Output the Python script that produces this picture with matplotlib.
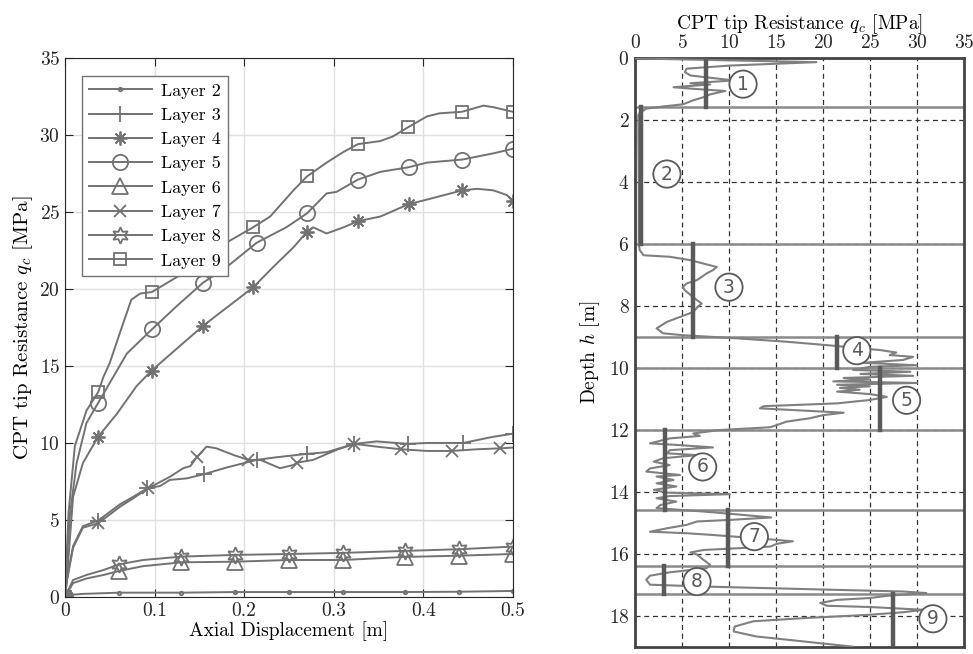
import matplotlib
matplotlib.use("Agg")
import matplotlib.pyplot as plt
from matplotlib.ticker import FuncFormatter

plt.rcParams['font.family'] = 'serif'
plt.rcParams['font.serif'] = ['cmr10', 'DejaVu Serif']
plt.rcParams['mathtext.fontset'] = 'cm'
plt.rcParams['axes.formatter.use_mathtext'] = True

grey = '#727272'
dark = '#262626'

# ---- left panel: load-displacement curves per layer ----
x2 = [0, 0.004, 0.02, 0.0606, 0.13, 0.19, 0.25, 0.31, 0.38, 0.44, 0.5]
y2 = [0, 0.13, 0.2, 0.28, 0.28, 0.32, 0.32, 0.32, 0.32, 0.34, 0.39]
m2 = [0, 3, 4, 5, 6, 7, 8, 9, 10]

x3 = [0, 0.002, 0.009, 0.02, 0.037, 0.061, 0.076, 0.092, 0.106, 0.117, 0.136, 0.155, 0.18, 0.214, 0.236,
      0.27, 0.292, 0.323, 0.348, 0.383, 0.404, 0.4446, 0.478, 0.5]
y3 = [0, 1.1, 3.3, 4.6, 4.96, 6.0, 6.5, 7.06, 7.2, 7.6, 7.7, 7.97, 8.4, 8.9, 9.07,
      9.29, 9.4, 9.94, 10.1, 9.94, 10.0, 10.0, 10.4, 10.6]
m3 = [0, 4, 7, 11, 13, 15, 17, 19, 21, 23]

x4 = [0, 0.002, 0.009, 0.02, 0.037, 0.058, 0.08, 0.0967, 0.154, 0.21, 0.232, 0.255, 0.27, 0.277, 0.292,
      0.311, 0.327, 0.352, 0.3835, 0.404, 0.4435, 0.46, 0.478, 0.493, 0.5]
y4 = [0, 1.1, 6.5, 8.7, 10.4, 11.9, 13.7, 14.7, 17.6, 20.1, 21.4, 22.7, 23.7, 24.0, 23.6,
      24.0, 24.4, 24.7, 25.5, 25.8, 26.4, 26.5, 26.4, 26.1, 25.7]
m4 = [0, 4, 7, 8, 9, 12, 16, 18, 20, 24]

x5 = [0, 0.0005, 0.0056, 0.013, 0.024, 0.037, 0.054, 0.069, 0.0975, 0.125, 0.154, 0.18, 0.214, 0.247,
      0.27, 0.292, 0.303, 0.327, 0.352, 0.3835, 0.404, 0.4435, 0.478, 0.5]
y5 = [0, 1.1, 5.4, 8.7, 11.3, 12.6, 14.3, 15.8, 17.4, 18.9, 20.4, 21.4, 23.0, 24.0,
      24.9, 26.2, 26.3, 27.1, 27.6, 27.9, 28.2, 28.4, 28.8, 29.1]
m5 = [0, 5, 8, 10, 12, 14, 17, 19, 21, 23]

x6 = [0, 0.009, 0.024, 0.043, 0.0606, 0.087, 0.13, 0.19, 0.25, 0.31, 0.379, 0.44, 0.5]
y6 = [0, 0.9, 1.2, 1.43, 1.69, 2.0, 2.25, 2.29, 2.4, 2.4, 2.6, 2.68, 2.79]
m6 = [0, 4, 6, 7, 8, 9, 10, 11, 12]

x7 = [0, 0.002, 0.009, 0.02, 0.037, 0.061, 0.076, 0.093, 0.117, 0.132, 0.14, 0.147, 0.158, 0.169, 0.188,
      0.2046, 0.218, 0.24, 0.255, 0.259, 0.277, 0.303, 0.323, 0.348, 0.375, 0.404, 0.4316, 0.46, 0.4855, 0.5]
y7 = [0, 1.0, 3.2, 4.5, 4.78, 5.84, 6.4, 7.06, 7.8, 8.36, 8.5, 9.07, 9.76, 9.65, 9.22,
      8.9, 8.9, 8.36, 8.57, 8.72, 8.9, 9.55, 9.94, 9.76, 9.59, 9.48, 9.48, 9.59, 9.65, 9.7]
m7 = [0, 4, 7, 11, 15, 19, 22, 24, 26, 28]

x8 = [0, 0.009, 0.024, 0.043, 0.0606, 0.087, 0.13, 0.19, 0.25, 0.31, 0.379, 0.44, 0.5]
y8 = [0, 1.1, 1.43, 1.75, 2.12, 2.4, 2.62, 2.73, 2.79, 2.86, 2.99, 3.1, 3.27]
m8 = [0, 4, 6, 7, 8, 9, 10, 11, 12]

x9 = [0, 0.004, 0.011, 0.024, 0.037, 0.043, 0.05, 0.061, 0.074, 0.084, 0.097, 0.143, 0.18, 0.21, 0.229,
      0.255, 0.27, 0.292, 0.311, 0.327, 0.352, 0.366, 0.383, 0.404, 0.418, 0.443, 0.467, 0.478, 0.5]
y9 = [0, 5.5, 9.8, 12.1, 13.3, 14.3, 15.2, 17.1, 19.3, 19.7, 19.8, 21.4, 23.0, 24.0, 24.7,
      26.4, 27.3, 28.2, 28.9, 29.4, 29.6, 29.9, 30.5, 31.2, 31.4, 31.5, 31.9, 31.8, 31.5]
m9 = [0, 4, 10, 13, 16, 19, 22, 25, 28]

labels = ['Layer 2', 'Layer 3', 'Layer 4', 'Layer 5', 'Layer 6', 'Layer 7', 'Layer 8', 'Layer 9']

# ---- right panel: CPT profile ----
cpt_q = [0, 19.3, 10.1, 5.5, 5.3, 5.9, 10.5, 5.9, 8.0, 4.1, 6.2, 9.6, 8.0, 7.3, 6.2, 5.1, 3.0, 1.2, 0.5, 0.35,
         0.4, 0.4, 0.5, 0.9, 3.7, 5.9, 7.3, 8.7, 8.3, 7.6, 7.1, 6.6, 5.5, 5.1, 5.3, 5.7, 6.6, 7.1, 6.7, 6.2,
         4.8, 3.4, 2.3, 3.0, 5.1, 10.8, 16.1, 20.4, 23.2, 26.1, 27.8, 27.1, 29.6, 28.5, 24.3, 30.0, 25.0,
         23.2, 29.3, 24.0, 29.6, 22.2, 25.0, 21.1, 30.0, 21.5, 25.0, 21.8, 23.9, 21.5, 25.0, 26.8, 25.0, 21.5,
         13.7, 13.3, 17.2, 22.2, 20.0, 18.6, 16.1, 15.1, 14.4, 9.0, 6.2, 6.9, 3.7, 1.6, 4.4, 8.3, 3.7, 3.4,
         6.6, 3.0, 2.0, 3.7, 1.6, 1.2, 4.8, 2.3, 4.1, 2.3, 4.4, 2.0, 3.4, 10.1, 3.7, 2.3, 4.4, 2.7, 2.3,
         7.3, 10.8, 14.5, 10.1, 6.6, 5.5, 3.4, 1.6, 5.5, 8.0, 12.9, 16.8, 15.1, 14.4, 7.3, 5.9, 6.6, 7.3,
         8.0, 7.6, 3.7, 1.6, 1.2, 1.6, 7.3, 17.9, 28.5, 31.0, 26.8, 25.0, 21.5, 19.7, 20.4, 25.0, 30.7,
         28.5, 25.0, 17.9, 12.6, 10.6, 10.5, 12.9, 17.9, 23.2]
cpt_h = [0.02, 0.14, 0.25, 0.35, 0.46, 0.57, 0.73, 0.82, 0.86, 0.95, 1.0, 1.07, 1.18, 1.27, 1.37, 1.5, 1.57,
         1.64, 1.78, 1.86, 4.0, 6.0, 6.2, 6.37, 6.42, 6.53, 6.64, 6.75, 6.85, 6.96, 7.07, 7.17, 7.28, 7.39,
         7.5, 7.6, 7.82, 7.93, 8.03, 8.2, 8.36, 8.52, 8.73, 8.89, 8.95, 9.05, 9.16, 9.27, 9.35, 9.43, 9.51,
         9.59, 9.65, 9.75, 9.84, 9.92, 9.97, 10.07, 10.13, 10.2, 10.26, 10.33, 10.38, 10.44, 10.49, 10.55,
         10.6, 10.65, 10.71, 10.77, 10.85, 10.94, 11.04, 11.15, 11.24, 11.31, 11.37, 11.45, 11.53, 11.63,
         11.74, 11.85, 11.92, 12.01, 12.12, 12.2, 12.28, 12.44, 12.49, 12.57, 12.66, 12.76, 12.82, 12.92,
         13.03, 13.14, 13.25, 13.35, 13.46, 13.51, 13.62, 13.73, 13.83, 13.94, 14.03, 14.08, 14.14, 14.21,
         14.32, 14.43, 14.53, 14.64, 14.73, 14.83, 14.91, 14.96, 15.07, 15.18, 15.29, 15.34, 15.39, 15.5,
         15.6, 15.68, 15.77, 15.88, 15.96, 16.03, 16.2, 16.36, 16.47, 16.6, 16.71, 16.84, 17.0, 17.06,
         17.14, 17.22, 17.27, 17.36, 17.43, 17.49, 17.59, 17.68, 17.72, 17.81, 17.89, 17.97, 18.08, 18.18,
         18.35, 18.51, 18.67, 18.83, 19.0]

layer_top = [0.0, 1.6, 6.0, 9.0, 10.0, 12.0, 14.6, 16.4, 17.3]
layer_bot = [1.6, 6.0, 9.0, 10.0, 12.0, 14.6, 16.4, 17.3, 19.0]
layer_mean = [7.6, 0.6, 6.2, 21.5, 26.1, 3.2, 9.9, 3.1, 27.4]
label_q = [11.5, 3.4, 10.0, 23.6, 28.9, 7.2, 12.7, 6.6, 31.7]
label_h = [0.85, 3.75, 7.4, 9.45, 11.05, 13.2, 15.45, 16.9, 18.1]

fig = plt.figure(figsize=(9.73, 6.54), dpi=100)
ax = fig.add_axes([0.0668, 0.0872, 0.4604, 0.8243])

series = [(x2, y2, m2, '.', 5), (x3, y3, m3, '+', 11), (x4, y4, m4, (8, 2, 0), 10), (x5, y5, m5, 'o', 11),
          (x6, y6, m6, '^', 11), (x7, y7, m7, 'x', 8), (x8, y8, m8, (6, 1, 0), 12), (x9, y9, m9, 's', 9)]
for (xs, ys, mk, mkr, ms), lab in zip(series, labels):
    ax.plot(xs, ys, color=grey, lw=1.4, marker=mkr, markevery=mk, ms=ms,
            mfc='none', mec=grey, mew=1.3, label=lab)

ax.set_xlim(0, 0.5)
ax.set_ylim(0, 35)
ax.set_xticks([0, 0.1, 0.2, 0.3, 0.4, 0.5])
ax.set_yticks(range(0, 36, 5))
ax.xaxis.set_major_formatter(FuncFormatter(lambda v, p: '%g' % v))
ax.grid(True, color='#e0e0e0', lw=1.0)
ax.set_axisbelow(True)
ax.tick_params(direction='in', top=True, right=True, labelsize=14, length=6, colors=dark, labelcolor=dark)
for s in ax.spines.values():
    s.set_color(dark)
ax.set_xlabel('Axial Displacement [m]', fontsize=14, labelpad=1)
ax.set_ylabel('CPT tip Resistance $q_c$ [MPa]', fontsize=15, labelpad=3)
leg = ax.legend(loc='upper left', bbox_to_anchor=(0.037, 0.967), borderaxespad=0, fontsize=13,
                handlelength=3.5, handletextpad=0.5, fancybox=False, edgecolor=grey, framealpha=1,
                labelspacing=0.48, borderpad=0.4)
leg.get_frame().set_linewidth(1.0)

# right panel
ax2 = fig.add_axes([0.6526, 0.0112, 0.3381, 0.9004])
ax2.plot(cpt_q, cpt_h, color='#808080', lw=1.5, zorder=3)
for t, b, m in zip(layer_top, layer_bot, layer_mean):
    ax2.plot([m, m], [t, b], color='#5a5a5a', lw=3.2, zorder=4)
for b in layer_bot[:-1]:
    ax2.axhline(b, color='#8a8a8a', lw=1.8, zorder=2)
for i, (q, h) in enumerate(zip(label_q, label_h)):
    ax2.text(q, h, str(i + 1), family='DejaVu Sans', fontsize=13.5, color='#5a5a5a', ha='center', va='center',
             zorder=5, bbox=dict(boxstyle='circle,pad=0.22', fc='white', ec='#5a5a5a', lw=1.3))
ax2.set_xlim(0, 35)
ax2.set_ylim(19, 0)
ax2.set_xticks(range(0, 36, 5))
ax2.set_yticks(range(0, 19, 2))
ax2.xaxis.tick_top()
ax2.xaxis.set_label_position('top')
ax2.grid(True, color='#333333', ls=(0, (4, 3)), lw=0.9)
ax2.set_axisbelow(True)
ax2.tick_params(length=0, labelsize=14, colors=dark, labelcolor=dark, pad=4)
for s in ax2.spines.values():
    s.set_color('#444444')
    s.set_linewidth(2.0)
ax2.set_xlabel('CPT tip Resistance $q_c$ [MPa]', fontsize=14, labelpad=4)
ax2.set_ylabel('Depth $h$ [m]', fontsize=14, labelpad=5)

fig.savefig('out.png', dpi=100)
